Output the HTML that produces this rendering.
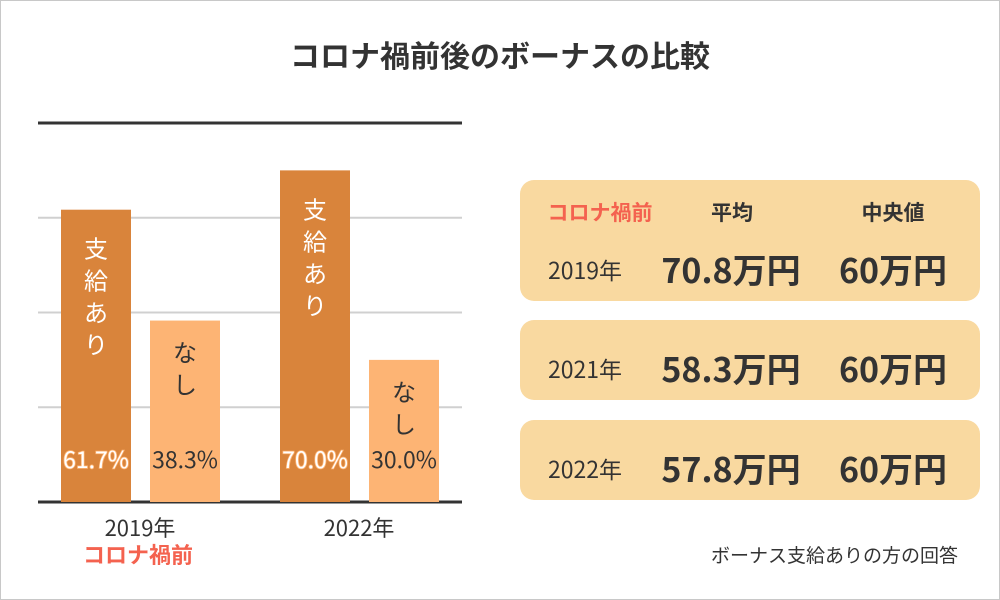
<!DOCTYPE html>
<html><head><meta charset="utf-8"><style>
html,body{margin:0;padding:0;background:#fff}
svg{display:block;font-family:"Noto Sans CJK JP","Liberation Sans",sans-serif}
</style></head><body>
<svg id="c" width="1000" height="600" viewBox="0 0 1000 600">
<rect x="0.5" y="0.5" width="999" height="599" fill="#fff" stroke="#c8c8c8"/>
<text x="500" y="67" text-anchor="middle" font-size="30" font-weight="bold" fill="#333">コロナ禍前後のボーナスの比較</text>
<g id="grid"></g>
<g id="bars"></g>
<g id="cards"></g>
<text x="958" y="562" text-anchor="end" font-size="19" fill="#333">ボーナス支給ありの方の回答</text>
</svg>
<script>
const categories=["2019年","2022年"];
const withBonus=[61.7,70.0];
const noBonus=[38.3,30.0];
const yTicks=[0,20,40,60,80];
const tableYears=["2019年","2021年","2022年"];
const tableAvg=["70.8万円","58.3万円","57.8万円"];
const tableMedian=["60万円","60万円","60万円"];
const NS="http://www.w3.org/2000/svg";
function el(t,a,p,txt){const e=document.createElementNS(NS,t);for(const k in a)e.setAttribute(k,a[k]);if(txt!==undefined)e.textContent=txt;p.appendChild(e);return e;}
const y=v=>502-v*4.7375;
const grid=document.getElementById('grid');
yTicks.forEach(t=>{const g=el('line',{x1:38,x2:462,y1:y(t),y2:y(t),stroke:t===80||t===0?'#333':'#d0d0d0','stroke-width':t===80||t===0?3:2},grid);

});
const bars=document.getElementById('bars');
const gx=[61,280];
categories.forEach((c,i)=>{
 const x0=gx[i];
 const b1=el('rect',{x:x0,y:y(withBonus[i]),width:70,height:y(0)-y(withBonus[i]),fill:'#D9843B'},bars);
 
 
 const b2=el('rect',{x:x0+89,y:y(noBonus[i]),width:70,height:y(0)-y(noBonus[i]),fill:'#FDB474'},bars);
 
 
 ['支','給','あ','り'].forEach((ch,k)=>{const t=el('text',{x:x0+35,y:y(withBonus[i])+48+k*32,'text-anchor':'middle','font-size':24,fill:'#fff'},bars,ch);
 
 });
 ['な','し'].forEach((ch,k)=>{const t=el('text',{x:x0+124,y:y(noBonus[i])+41+k*32,'text-anchor':'middle','font-size':24,fill:'#333'},bars,ch);
 
 });
 const p1=el('text',{x:x0+35,y:468,'text-anchor':'middle','font-size':23,fill:'#fff',stroke:'#FDB474','stroke-width':1.5,'paint-order':'stroke'},bars,withBonus[i].toFixed(1)+'%');
 
 
 const p2=el('text',{x:x0+124,y:468,'text-anchor':'middle','font-size':23,fill:'#333',stroke:'#FDB474','stroke-width':2,'paint-order':'stroke'},bars,noBonus[i].toFixed(1)+'%');
 
 
 const cl=el('text',{x:x0+79,y:536,'text-anchor':'middle','font-size':22,fill:'#333'},bars,c);
 
 
});
const pre=el('text',{x:138,y:563,'text-anchor':'middle','font-size':22,'font-weight':'bold',fill:'#F4624F'},bars,'コロナ禍前');


const cards=document.getElementById('cards');
const cy=[180,320,420],ch=[121,80,80];
tableYears.forEach((yr,i)=>{
 const r=el('rect',{x:520,y:cy[i],width:460,height:ch[i],rx:14,fill:'#F9D9A0'},cards);
 
 
 const base=cy[i]+ch[i]-20;
 const a=el('text',{x:585,y:base-2,'text-anchor':'middle','font-size':23,fill:'#333'},cards,yr);
 
 
 const b=el('text',{x:731,y:base+2,'text-anchor':'middle','font-size':34,'font-weight':'bold',fill:'#333'},cards,tableAvg[i]);
 
 
 const m=el('text',{x:893,y:base+2,'text-anchor':'middle','font-size':34,'font-weight':'bold',fill:'#333'},cards,tableMedian[i]);
 
 
});
const h1=el('text',{x:600,y:220,'text-anchor':'middle','font-size':21,'font-weight':'bold',fill:'#F4624F'},cards,'コロナ禍前');


const h2=el('text',{x:732,y:220,'text-anchor':'middle','font-size':21,'font-weight':'bold',fill:'#333'},cards,'平均');


const h3=el('text',{x:893,y:220,'text-anchor':'middle','font-size':21,'font-weight':'bold',fill:'#333'},cards,'中央値');


</script>
</body></html>
